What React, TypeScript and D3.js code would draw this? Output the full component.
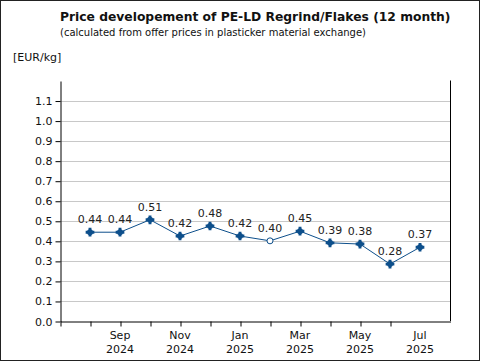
import { useEffect, useRef } from "react";
import * as d3 from "d3";

const months = ["Aug", "Sep", "Oct", "Nov", "Dec", "Jan", "Feb", "Mar", "Apr", "May", "Jun", "Jul"];
const years = ["2024", "2024", "2024", "2024", "2024", "2025", "2025", "2025", "2025", "2025", "2025", "2025"];
const prices = [0.443, 0.443, 0.505, 0.424, 0.474, 0.424, 0.4, 0.448, 0.39, 0.384, 0.284, 0.368];
const labels = ["0.44", "0.44", "0.51", "0.42", "0.48", "0.42", "0.40", "0.45", "0.39", "0.38", "0.28", "0.37"];
const hollow = [false, false, false, false, false, false, true, false, false, false, false, false];
const yTicks = [0, 0.1, 0.2, 0.3, 0.4, 0.5, 0.6, 0.7, 0.8, 0.9, 1.0, 1.1];

const W = 480;
const H = 361;
const BLUE = "#0d4f8b";
const FONT = "Verdana, 'DejaVu Sans', sans-serif";

const App = () => {
  const svgRef = useRef<SVGSVGElement>(null);

  const draw = () => {
    document.body.style.margin = "0";
    const svg = d3.select(svgRef.current);
    svg.selectAll("*").remove();
    svg.attr("width", W).attr("height", H);

    const margin = { top: 80, right: 30, bottom: 40, left: 60 };
    const x = d3.scaleLinear().domain([0, 13]).range([margin.left, W - margin.right]);
    const y = d3.scaleLinear().domain([0, 1.2]).range([H - margin.bottom, margin.top + 0.5]);

    svg.append("rect").attr("x", 0).attr("y", 0).attr("width", W).attr("height", H).attr("fill", "white");
    svg
      .append("rect")
      .attr("x", 0.5)
      .attr("y", 0.5)
      .attr("width", W - 1)
      .attr("height", H - 1)
      .attr("fill", "none")
      .attr("stroke", "#222");

    // grid
    svg
      .append("g")
      .selectAll("line")
      .data(yTicks.filter((d) => d > 0))
      .join("line")
      .attr("x1", x(0))
      .attr("x2", x(13))
      .attr("y1", (d) => Math.round(y(d)) + 0.5)
      .attr("y2", (d) => Math.round(y(d)) + 0.5)
      .attr("stroke", "#c8c8c8");

    // y axis
    const yAxis = svg
      .append("g")
      .attr("transform", `translate(${x(0) + 0.5},0.5)`)
      .call(
        d3
          .axisLeft(y)
          .tickValues(yTicks)
          .tickFormat(d3.format(".1f"))
          .tickSize(5)
          .tickSizeOuter(0)
      );
    yAxis.select(".domain").attr("stroke", "#000");
    yAxis.selectAll("line").attr("stroke", "#000");
    yAxis
      .selectAll("text")
      .attr("font-family", FONT)
      .attr("font-size", 11)
      .attr("fill", "#111")
      .attr("x", -8);

    // right frame
    svg
      .append("line")
      .attr("x1", x(13) + 0.5)
      .attr("x2", x(13) + 0.5)
      .attr("y1", y(1.2))
      .attr("y2", y(0))
      .attr("stroke", "#000");

    // x axis
    const xAxis = svg
      .append("g")
      .attr("transform", `translate(0.5,${Math.round(y(0)) + 0.5})`)
      .call(d3.axisBottom(x).tickValues(d3.range(0, 12)).tickFormat(() => "").tickSize(5).tickSizeOuter(0));
    xAxis.select(".domain").attr("stroke", "#000");
    xAxis.selectAll("line").attr("stroke", "#000");

    const xl = svg.append("g").attr("font-family", FONT).attr("font-size", 11).attr("fill", "#111").attr("text-anchor", "middle");
    months.forEach((m, i) => {
      if (i % 2 === 0) return;
      const t = xl.append("text").attr("x", x(i + 1));
      t.append("tspan").attr("x", x(i + 1)).attr("y", 339).text(m);
      t.append("tspan").attr("x", x(i + 1)).attr("y", 353).text(years[i]);
    });

    // line
    const line = d3
      .line<number>()
      .x((_, i) => x(i + 1))
      .y((d) => y(d));
    svg.append("path").datum(prices).attr("fill", "none").attr("stroke", BLUE).attr("stroke-width", 1).attr("d", line);

    // markers
    const cross = d3.symbol().type(d3.symbolCross).size(42);
    const mk = svg.append("g");
    prices.forEach((p, i) => {
      const g = mk.append("g").attr("transform", `translate(${x(i + 1)},${y(p)})`);
      if (hollow[i]) {
        g.append("circle").attr("r", 3).attr("fill", "white").attr("stroke", BLUE);
      } else {
        g.append("path").attr("d", cross()).attr("fill", BLUE);
        g.append("circle").attr("r", 3).attr("fill", BLUE);
      }
    });

    // value labels
    svg
      .append("g")
      .attr("font-family", FONT)
      .attr("font-size", 11)
      .attr("fill", "#222")
      .attr("text-anchor", "middle")
      .selectAll("text")
      .data(prices)
      .join("text")
      .attr("x", (_, i) => x(i + 1))
      .attr("y", (d) => y(d) - 9)
      .text((_, i) => labels[i]);

    // titles
    svg
      .append("text")
      .attr("x", 60)
      .attr("y", 21)
      .attr("font-family", FONT)
      .attr("font-size", 12.3)
      .attr("font-weight", "bold")
      .attr("fill", "#111")
      .text("Price developement of PE-LD Regrind/Flakes (12 month)");
    svg
      .append("text")
      .attr("x", 60)
      .attr("y", 36)
      .attr("font-family", FONT)
      .attr("font-size", 10)
      .attr("fill", "#111")
      .text("(calculated from offer prices in plasticker material exchange)");
    svg
      .append("text")
      .attr("x", 13)
      .attr("y", 61)
      .attr("font-family", FONT)
      .attr("font-size", 11)
      .attr("fill", "#111")
      .text("[EUR/kg]");
  };

  useEffect(() => {
    draw();
  }, []);

  return <svg ref={svgRef}></svg>;
};

export default App;
